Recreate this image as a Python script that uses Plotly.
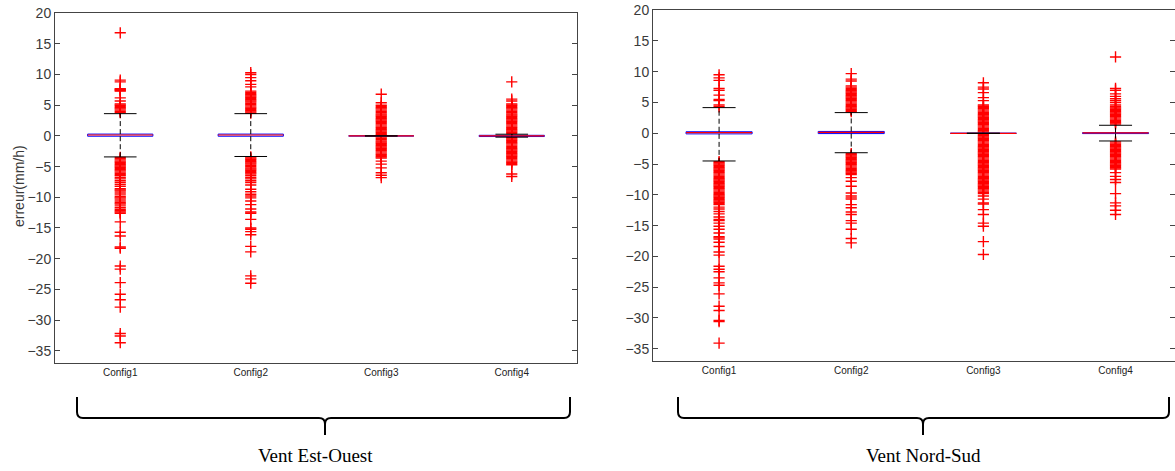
import plotly.graph_objects as go

# ---------------- data ----------------
categories = ["Config1", "Config2", "Config3", "Config4"]

# Vent Est-Ouest : box statistics
eo_q1 = [-0.05, -0.05, 0.0, -0.1]
eo_med = [0.15, 0.15, 0.0, 0.0]
eo_q3 = [0.3, 0.3, 0.0, 0.1]
eo_wlo = [-3.42, -3.35, 0.0, -0.2]
eo_whi = [3.63, 3.63, 0.0, 0.28]

# Vent Est-Ouest : outliers
eo_out_c1 = [3.8, 4.0, 4.2, 4.4, 4.6, 4.8, 5.0, 5.2, 5.7, 6.2, 7.3, 7.4, 7.5, 7.6, 7.7, 8.8, 9.1, 16.8,
             -3.5, -3.7, -3.9, -4.1, -4.3, -4.5, -4.7, -4.9, -5.1, -5.3, -5.5, -5.7, -5.9, -6.1, -6.3,
             -6.5, -6.8, -7.0, -7.3, -7.6, -7.9, -8.2, -8.6, -8.8, -9.0, -9.3, -9.6, -9.9, -10.1, -10.3,
             -10.6, -10.9, -11.1, -11.4, -11.7, -12.0, -12.2, -12.4, -12.6, -14.0, -15.7, -16.3, -18.1,
             -18.3, -21.2, -21.7, -23.9, -25.8, -26.7, -27.9, -32.2, -32.6, -33.7]
eo_out_c2 = [3.7, 3.9, 4.1, 4.3, 4.5, 4.7, 4.9, 5.1, 5.3, 5.5, 5.7, 5.9, 6.1, 6.3, 6.5, 6.7, 6.9, 7.1,
             7.3, 8.0, 8.4, 9.0, 9.5, 10.0, 10.3,
             -3.4, -3.6, -3.8, -4.0, -4.2, -4.4, -4.6, -4.8, -5.0, -5.2, -5.4, -5.6, -5.8, -6.0, -6.2,
             -6.5, -6.8, -7.0, -7.3, -7.6, -8.0, -8.7, -9.1, -9.5, -9.8, -10.1, -10.6, -11.2, -11.9,
             -12.4, -12.6, -13.6, -15.0, -15.2, -15.6, -16.1, -18.0, -18.9, -22.8, -23.3, -24.0]
eo_out_c3 = [0.2, 0.4, 0.6, 0.8, 1.0, 1.2, 1.4, 1.6, 1.8, 2.0, 2.2, 2.4, 2.6, 2.8, 3.0, 3.2, 3.4, 3.6,
             3.8, 4.0, 4.2, 4.4, 4.6, 4.8, 5.0, 5.4, 6.8,
             -0.2, -0.4, -0.6, -0.8, -1.0, -1.2, -1.4, -1.6, -1.8, -2.0, -2.2, -2.4, -2.6, -2.8, -3.0,
             -3.2, -3.4, -3.6, -4.1, -4.6, -5.2, -6.0, -6.4, -6.8]
eo_out_c4 = [0.4, 0.6, 0.8, 1.0, 1.2, 1.4, 1.6, 1.8, 2.0, 2.2, 2.4, 2.6, 2.8, 3.0, 3.2, 3.4, 3.6, 3.8,
             4.0, 4.2, 4.4, 4.6, 4.8, 5.0, 5.2, 5.7, 6.0, 8.8,
             -0.3, -0.5, -0.7, -0.9, -1.1, -1.3, -1.5, -1.7, -1.9, -2.1, -2.3, -2.5, -2.7, -2.9, -3.1,
             -3.3, -3.5, -3.7, -3.9, -4.1, -4.3, -4.5, -4.7, -6.2, -6.6]

# Vent Nord-Sud : box statistics
ns_q1 = [-0.1, -0.05, 0.0, -0.05]
ns_med = [0.1, 0.15, 0.0, 0.05]
ns_q3 = [0.25, 0.3, 0.0, 0.1]
ns_wlo = [-4.5, -3.16, 0.0, -1.25]
ns_whi = [4.17, 3.36, 0.0, 1.3]

# Vent Nord-Sud : outliers
ns_out_c1 = [4.3, 4.6, 5.3, 5.5, 6.2, 7.0, 7.3, 8.6, 9.0, 9.5,
             -4.6, -4.8, -5.0, -5.2, -5.4, -5.6, -5.8, -6.0, -6.2, -6.4, -6.6, -6.8, -7.0, -7.2, -7.4,
             -7.6, -7.8, -8.0, -8.2, -8.4, -8.6, -8.8, -9.0, -9.2, -9.4, -9.6, -9.8, -10.0, -10.2,
             -10.4, -10.6, -10.8, -11.0, -11.2, -11.4, -11.6, -12.0, -12.3, -12.7, -13.1, -13.6,
             -14.0, -14.2, -14.6, -15.1, -15.6, -16.2, -16.8, -17.0, -17.2, -17.7, -18.4, -19.3,
             -19.8, -21.6, -22.1, -22.5, -23.5, -24.3, -24.7, -26.1, -28.1, -28.8, -30.4, -30.6, -34.1]
ns_out_c2 = [3.5, 3.7, 3.9, 4.1, 4.3, 4.5, 4.7, 4.9, 5.1, 5.3, 5.5, 5.7, 5.9, 6.1, 6.3, 6.5, 6.7, 6.9,
             7.1, 7.3, 7.5, 7.7, 8.5, 8.8, 9.7,
             -3.3, -3.5, -3.7, -3.9, -4.1, -4.3, -4.5, -4.7, -4.9, -5.1, -5.3, -5.5, -5.7, -5.9, -6.1,
             -6.3, -6.5, -6.7, -7.2, -7.8, -8.6, -9.7, -10.2, -10.5, -10.7, -11.6, -12.1, -12.8, -13.2,
             -14.2, -14.6, -15.6, -17.1, -17.8]
ns_out_c3 = [0.2, 0.4, 0.6, 0.8, 1.0, 1.2, 1.4, 1.6, 1.8, 2.0, 2.2, 2.4, 2.6, 2.8, 3.0, 3.2, 3.4, 3.6,
             3.8, 4.0, 4.2, 4.4, 4.6, 5.3, 5.8, 6.6, 7.2, 7.5, 8.2,
             -0.2, -0.4, -0.6, -0.8, -1.0, -1.2, -1.4, -1.6, -1.8, -2.0, -2.2, -2.4, -2.6, -2.8, -3.0,
             -3.2, -3.4, -3.6, -3.8, -4.0, -4.2, -4.4, -4.6, -4.8, -5.0, -5.2, -5.4, -5.6, -5.8, -6.0,
             -6.2, -6.4, -6.6, -6.8, -7.0, -7.2, -7.4, -7.6, -7.8, -8.0, -8.2, -8.4, -8.6, -8.8, -9.0,
             -9.2, -9.4, -9.6, -9.8, -10.2, -10.7, -11.3, -11.5, -12.4, -13.2, -14.6, -15.1, -17.6, -19.7]
ns_out_c4 = [1.5, 1.7, 1.9, 2.1, 2.3, 2.5, 2.7, 2.9, 3.1, 3.3, 3.5, 3.7, 3.9, 4.1, 4.3, 4.6, 5.0, 5.3,
             5.6, 6.0, 6.4, 7.0, 7.3, 12.4,
             -1.4, -1.6, -1.8, -2.0, -2.2, -2.4, -2.6, -2.8, -3.0, -3.2, -3.4, -3.6, -3.8, -4.0, -4.2,
             -4.4, -4.6, -4.8, -5.0, -5.2, -5.4, -5.6, -5.8, -6.4, -7.0, -7.5, -8.0, -9.8, -11.3,
             -11.8, -12.5, -13.2]

y_ticks = [-35, -30, -25, -20, -15, -10, -5, 0, 5, 10, 15, 20]
y_title = "erreur(mm/h)"
group_titles = ["Vent Est-Ouest", "Vent Nord-Sud"]

# ---------------- layout helpers ----------------
W, H = 1175, 471


def px(x):
    return x / W


def py(y):
    return 1 - y / H


BOX_HALF = 0.25
CAP_HALF = 0.125
RED = "#ff0000"
BLUE = "#0000ff"

fig = go.Figure()


def add_panel(xa, ya, q1, med, q3, wlo, whi, outs):
    for i, cat in enumerate(categories):
        c = i + 1
        # outliers
        fig.add_trace(go.Scatter(
            x=[c] * len(outs[i]), y=outs[i], mode="markers", xaxis=xa, yaxis=ya,
            marker=dict(symbol="cross-thin", size=8, line=dict(color=RED, width=1.4)),
            showlegend=False, hoverinfo="y"))
        # box
        fig.add_trace(go.Scatter(
            x=[c - BOX_HALF, c + BOX_HALF, c + BOX_HALF, c - BOX_HALF, c - BOX_HALF],
            y=[q1[i], q1[i], q3[i], q3[i], q1[i]], mode="lines", xaxis=xa, yaxis=ya,
            line=dict(color=BLUE, width=1), showlegend=False, hoverinfo="skip"))
        # median
        fig.add_trace(go.Scatter(
            x=[c - BOX_HALF, c + BOX_HALF], y=[med[i], med[i]], mode="lines", xaxis=xa, yaxis=ya,
            line=dict(color=RED, width=1.2), showlegend=False, hoverinfo="skip"))
        # whiskers
        fig.add_trace(go.Scatter(
            x=[c, c, None, c, c], y=[q3[i], whi[i], None, q1[i], wlo[i]], mode="lines",
            xaxis=xa, yaxis=ya, line=dict(color="black", width=1, dash="5px,3px"),
            showlegend=False, hoverinfo="skip"))
        # caps
        fig.add_trace(go.Scatter(
            x=[c - CAP_HALF, c + CAP_HALF, None, c - CAP_HALF, c + CAP_HALF],
            y=[whi[i], whi[i], None, wlo[i], wlo[i]], mode="lines", xaxis=xa, yaxis=ya,
            line=dict(color="black", width=1), showlegend=False, hoverinfo="skip"))


add_panel("x", "y", eo_q1, eo_med, eo_q3, eo_wlo, eo_whi,
          [eo_out_c1, eo_out_c2, eo_out_c3, eo_out_c4])
add_panel("x2", "y2", ns_q1, ns_med, ns_q3, ns_wlo, ns_whi,
          [ns_out_c1, ns_out_c2, ns_out_c3, ns_out_c4])

axis_font = dict(family="Liberation Sans, Arial, sans-serif", size=14, color="#3a3a3a")
xfont = dict(family="Liberation Sans, Arial, sans-serif", size=10, color="#222222")

common_y = dict(range=[-37, 20.03], tickvals=y_ticks, ticks="inside", ticklen=5, tickcolor="#444444",
                showline=True, linecolor="#444444", linewidth=1, mirror="ticks",
                showgrid=False, zeroline=False, tickfont=axis_font, automargin=False,
                ticklabeloverflow="allow")
common_x = dict(tickvals=[1, 2, 3, 4], ticktext=categories, ticks="", showline=True,
                linecolor="#444444", linewidth=1, mirror=True, showgrid=False, zeroline=False,
                tickfont=xfont, automargin=False)

fig.update_layout(
    width=W, height=H, margin=dict(l=0, r=0, t=0, b=0, autoexpand=False),
    paper_bgcolor="white", plot_bgcolor="white", showlegend=False,
    xaxis=dict(domain=[px(55), px(577)], range=[0.5, 4.5], anchor="y", **common_x),
    yaxis=dict(domain=[py(363), py(13)], anchor="x", **common_y),
    xaxis2=dict(domain=[px(653), 1.0], range=[0.5, 4.45], anchor="y2", **common_x),
    yaxis2=dict(domain=[py(361), py(10)], anchor="x2", **common_y),
)

# y axis title (left panel)
fig.add_annotation(text=y_title, xref="paper", yref="paper", x=px(19), y=py(186),
                   textangle=-90, showarrow=False, xanchor="center", yanchor="middle",
                   font=dict(family="Liberation Sans, Arial, sans-serif", size=14, color="#3a3a3a"))


# braces under each panel
def brace_path(x0, x1, xt, ytop, yh, ytip, r=6):
    pts = [
        f"M {px(x0)},{py(ytop)}",
        f"L {px(x0)},{py(yh - r)}",
        f"Q {px(x0)},{py(yh)} {px(x0 + r)},{py(yh)}",
        f"L {px(xt - r)},{py(yh)}",
        f"Q {px(xt)},{py(yh)} {px(xt)},{py(yh + r)}",
        f"L {px(xt)},{py(ytip)}",
        f"M {px(xt)},{py(yh + r)}",
        f"Q {px(xt)},{py(yh)} {px(xt + r)},{py(yh)}",
        f"L {px(x1 - r)},{py(yh)}",
        f"Q {px(x1)},{py(yh)} {px(x1)},{py(yh - r)}",
        f"L {px(x1)},{py(ytop)}",
    ]
    return " ".join(pts)


for (x0, x1, xt, xtext), title in zip([(77, 570, 325, 315), (678, 1169, 923, 923)], group_titles):
    fig.add_shape(type="path", xref="paper", yref="paper",
                  path=brace_path(x0, x1, xt, 397, 418, 435),
                  line=dict(color="black", width=2))
    fig.add_annotation(text=title, xref="paper", yref="paper", x=px(xtext), y=py(455),
                       showarrow=False, xanchor="center", yanchor="middle",
                       font=dict(family="Liberation Serif, Times New Roman, serif", size=19,
                                 color="black"))

fig.write_html("out.html", config={"displayModeBar": False},
               post_script="document.body.style.margin='0px';document.body.style.overflow='hidden';")
